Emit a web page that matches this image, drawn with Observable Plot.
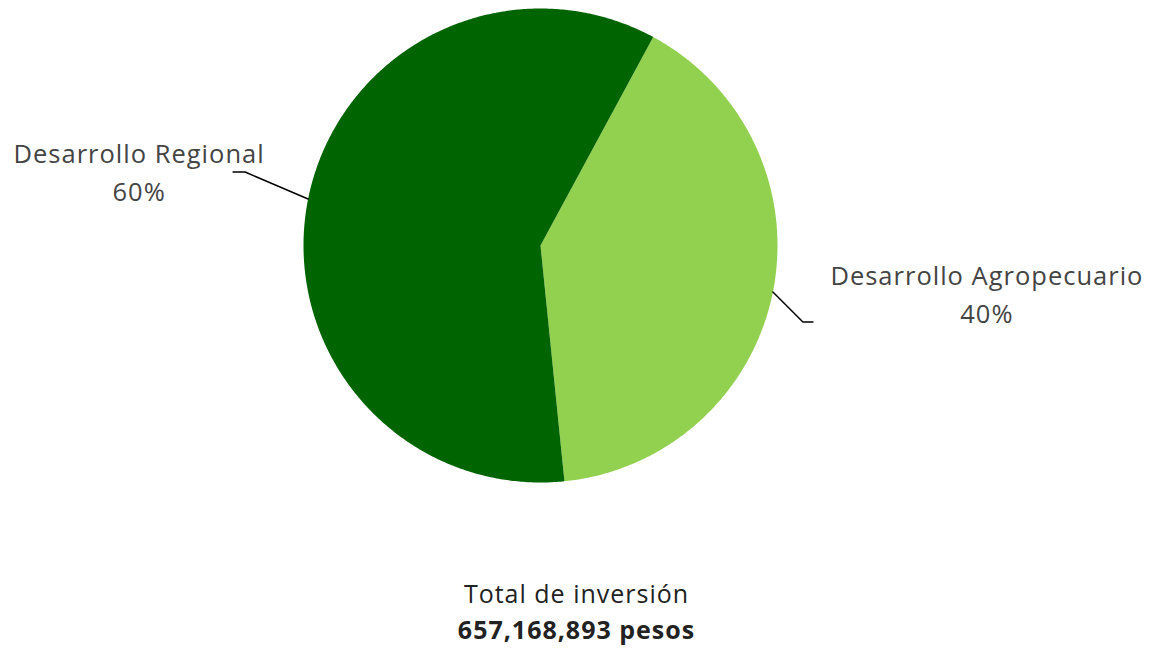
<!DOCTYPE html>
<html>
<head>
<meta charset="utf-8">
<script src="https://cdn.jsdelivr.net/npm/d3@7"></script>
<script src="https://cdn.jsdelivr.net/npm/@observablehq/plot@0.6"></script>
<style>
  html, body { margin: 0; padding: 0; background: #fff; }
  #chart svg { display: block; }
</style>
</head>
<body>
<div id="chart"></div>
<script>
// ---- data ----
const categories = ["Desarrollo Agropecuario", "Desarrollo Regional"];
const shares = [40.5, 59.5];
const pctLabels = ["40%", "60%"];
const sliceColors = ["#92d050", "#006400"];
const totalTitle = "Total de inversión";
const totalValue = "657,168,893 pesos";

// ---- layout (pixels) ----
const W = 1152, H = 649;
const CX = 540, CY = 245, R = 237;
const startDeg = 28.4; // rotation of first slice (clockwise from 12 o'clock)
// leader / label offsets in px relative to slice-mid point on the rim
const labelLayout = [
  {elbow: [30, 30], end: [40, 30], text: [174, -30]},
  {elbow: [-63, -27], end: [-75, -27], text: [-94, -2]}
];

const total = d3.sum(shares);
const slices = [];
const leaders = [];
const labels = [];
let a0 = startDeg;
shares.forEach((v, i) => {
  const span = v / total * 360;
  const a1 = a0 + span;
  const pts = [{cat: categories[i], x: 0, y: 0}];
  const n = Math.max(2, Math.ceil(span * 2));
  for (let k = 0; k <= n; k++) {
    const t = (a0 + span * k / n) * Math.PI / 180;
    pts.push({cat: categories[i], x: Math.sin(t), y: Math.cos(t)});
  }
  slices.push(...pts);
  const m = (a0 + span / 2) * Math.PI / 180;
  const sx = Math.sin(m), sy = Math.cos(m);
  const L = labelLayout[i];
  leaders.push({cat: categories[i], x: sx, y: sy});
  leaders.push({cat: categories[i], x: sx + L.elbow[0] / R, y: sy - L.elbow[1] / R});
  leaders.push({cat: categories[i], x: sx + L.end[0] / R, y: sy - L.end[1] / R});
  labels.push({x: sx + L.end[0] / R, y: sy - L.end[1] / R, dx: L.text[0], dy: L.text[1],
               text: categories[i] + "\n" + pctLabels[i]});
  a0 = a1;
});

const font = "'Open Sans', 'Noto Sans', sans-serif";

const chart = Plot.plot({
  width: W,
  height: H,
  margin: 0,
  x: {domain: [-1, 1], range: [CX - R, CX + R], axis: null},
  y: {domain: [-1, 1], range: [CY + R, CY - R], axis: null},
  color: {domain: categories, range: sliceColors},
  style: {fontFamily: font, background: "#fff", letterSpacing: "1px"},
  marks: [
    Plot.line(slices, {x: "x", y: "y", z: "cat", fill: "cat", stroke: null, curve: "linear-closed"}),
    Plot.line(leaders, {x: "x", y: "y", z: "cat", stroke: "#000", strokeWidth: 1.5}),
    ...labels.map(l => Plot.text([l], {
      x: "x", y: "y", text: "text", dx: l.dx, dy: l.dy,
      fontSize: 25.5, lineHeight: 1.5, fill: "#444", textAnchor: "middle", lineAnchor: "middle"
    })),
    Plot.text([totalTitle], {frameAnchor: "bottom", text: d => d, dy: -55, lineAnchor: "middle",
      fontSize: 25, fill: "#222"}),
    Plot.text([totalValue], {frameAnchor: "bottom", text: d => d, dy: -19, lineAnchor: "middle",
      fontSize: 25, fontWeight: "bold", fill: "#222"})
  ]
});
document.getElementById("chart").appendChild(chart);
</script>
</body>
</html>
